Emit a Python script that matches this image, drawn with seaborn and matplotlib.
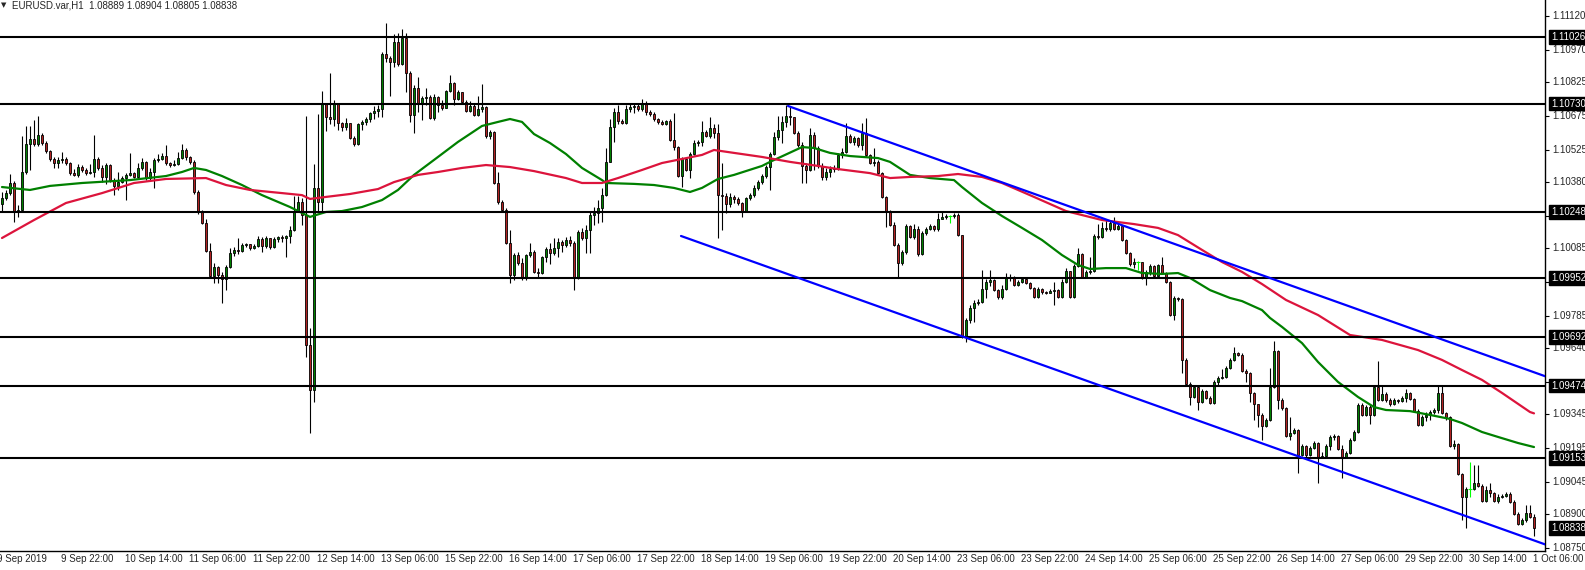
import numpy as np
import pandas as pd
import seaborn as sns
import matplotlib
matplotlib.use("Agg")
import matplotlib.pyplot as plt

# EURUSD H1, 9 Sep 2019 - 1 Oct 2019 (open of each bar = close of previous bar)
first_open = 1.10282
close = [
    1.10309, 1.10331, 1.10376, 1.10247, 1.10256, 1.10425, 1.10550, 1.10572, 1.10550, 1.10590,
    1.10554, 1.10518, 1.10483, 1.10465, 1.10478, 1.10483, 1.10465, 1.10420, 1.10412, 1.10447,
    1.10434, 1.10420, 1.10425, 1.10483, 1.10443, 1.10403, 1.10456, 1.10389, 1.10363, 1.10380,
    1.10398, 1.10412, 1.10420, 1.10403, 1.10443, 1.10470, 1.10398, 1.10425, 1.10478, 1.10483,
    1.10496, 1.10465, 1.10456, 1.10461, 1.10487, 1.10523, 1.10492, 1.10470, 1.10336, 1.10247,
    1.10198, 1.10073, 1.09962, 1.10002, 1.09966, 1.09948, 1.10002, 1.10064, 1.10078, 1.10073,
    1.10100, 1.10104, 1.10086, 1.10095, 1.10127, 1.10095, 1.10131, 1.10091, 1.10127, 1.10135,
    1.10131, 1.10140, 1.10167, 1.10251, 1.10291, 1.10233, 1.09654, 1.09454, 1.10354, 1.10291,
    1.10728, 1.10670, 1.10661, 1.10728, 1.10643, 1.10625, 1.10643, 1.10576, 1.10550, 1.10639,
    1.10648, 1.10661, 1.10688, 1.10697, 1.10706, 1.10951, 1.10933, 1.10915, 1.11004, 1.10906,
    1.11022, 1.10866, 1.10679, 1.10799, 1.10732, 1.10755, 1.10759, 1.10666, 1.10759, 1.10723,
    1.10710, 1.10786, 1.10821, 1.10750, 1.10781, 1.10737, 1.10697, 1.10719, 1.10679, 1.10706,
    1.10714, 1.10585, 1.10603, 1.10376, 1.10291, 1.10256, 1.10109, 1.09966, 1.10055, 1.10020,
    1.09953, 1.10055, 1.10069, 1.09980, 1.09975, 1.10046, 1.10082, 1.10064, 1.10086, 1.10113,
    1.10100, 1.10122, 1.10109, 1.09953, 1.10158, 1.10131, 1.10167, 1.10233, 1.10242, 1.10265,
    1.10322, 1.10470, 1.10625, 1.10692, 1.10652, 1.10643, 1.10706, 1.10714, 1.10719, 1.10706,
    1.10728, 1.10692, 1.10683, 1.10661, 1.10648, 1.10639, 1.10652, 1.10567, 1.10536, 1.10407,
    1.10483, 1.10434, 1.10505, 1.10554, 1.10559, 1.10603, 1.10585, 1.10621, 1.10599, 1.10322,
    1.10318, 1.10282, 1.10314, 1.10305, 1.10287, 1.10247, 1.10309, 1.10322, 1.10354, 1.10380,
    1.10407, 1.10447, 1.10505, 1.10581, 1.10612, 1.10648, 1.10674, 1.10670, 1.10599, 1.10545,
    1.10452, 1.10434, 1.10590, 1.10532, 1.10452, 1.10403, 1.10425, 1.10438, 1.10443, 1.10501,
    1.10514, 1.10585, 1.10559, 1.10576, 1.10545, 1.10599, 1.10501, 1.10465, 1.10470, 1.10420,
    1.10314, 1.10247, 1.10189, 1.10100, 1.10020, 1.10069, 1.10184, 1.10135, 1.10171, 1.10060,
    1.10153, 1.10171, 1.10184, 1.10171, 1.10216, 1.10225, 1.10229, 1.10229, 1.10233, 1.10144,
    1.09690, 1.09766, 1.09819, 1.09841, 1.09846, 1.09904, 1.09935, 1.09944, 1.09899, 1.09868,
    1.09904, 1.09953, 1.09957, 1.09922, 1.09935, 1.09948, 1.09931, 1.09908, 1.09868, 1.09904,
    1.09890, 1.09886, 1.09895, 1.09899, 1.09868, 1.09935, 1.09984, 1.09868, 1.10006, 1.10060,
    1.09957, 1.09980, 1.09984, 1.10140, 1.10135, 1.10176, 1.10171, 1.10198, 1.10171, 1.10184,
    1.10122, 1.10064, 1.10015, 1.10024, 1.10024, 1.09953, 1.09980, 1.10006, 1.09962, 1.10011,
    1.09975, 1.09935, 1.09788, 1.09864, 1.09859, 1.09588, 1.09481, 1.09423, 1.09467, 1.09400,
    1.09449, 1.09418, 1.09396, 1.09490, 1.09507, 1.09512, 1.09552, 1.09588, 1.09619, 1.09610,
    1.09539, 1.09530, 1.09441, 1.09392, 1.09343, 1.09294, 1.09320, 1.09467, 1.09628, 1.09409,
    1.09374, 1.09249, 1.09262, 1.09276, 1.09164, 1.09205, 1.09164, 1.09196, 1.09218, 1.09156,
    1.09160, 1.09205, 1.09245, 1.09249, 1.09191, 1.09156, 1.09173, 1.09231, 1.09267, 1.09387,
    1.09343, 1.09378, 1.09343, 1.09467, 1.09409, 1.09436, 1.09409, 1.09392, 1.09409, 1.09405,
    1.09418, 1.09441, 1.09414, 1.09360, 1.09298, 1.09334, 1.09343, 1.09356, 1.09365, 1.09441,
    1.09352, 1.09334, 1.09205, 1.09213, 1.09080, 1.08977, 1.09013, 1.09013, 1.09040, 1.09026,
    1.08960, 1.09009, 1.08995, 1.08960, 1.08977, 1.08982, 1.08991, 1.08955, 1.08902, 1.08857,
    1.08875, 1.08906, 1.08889, 1.08838,
]
high = [
    1.10336, 1.10345, 1.10416, 1.10385, 1.10278, 1.10585, 1.10630, 1.10630, 1.10657, 1.10674,
    1.10599, 1.10563, 1.10523, 1.10492, 1.10492, 1.10514, 1.10492, 1.10470, 1.10438, 1.10461,
    1.10456, 1.10443, 1.10461, 1.10590, 1.10492, 1.10456, 1.10465, 1.10461, 1.10398, 1.10425,
    1.10407, 1.10420, 1.10510, 1.10425, 1.10465, 1.10487, 1.10474, 1.10443, 1.10487, 1.10505,
    1.10510, 1.10545, 1.10470, 1.10478, 1.10514, 1.10550, 1.10532, 1.10496, 1.10478, 1.10345,
    1.10256, 1.10216, 1.10109, 1.10020, 1.10006, 1.09980, 1.10011, 1.10086, 1.10091, 1.10131,
    1.10109, 1.10109, 1.10104, 1.10104, 1.10140, 1.10135, 1.10140, 1.10131, 1.10135, 1.10140,
    1.10144, 1.10144, 1.10184, 1.10318, 1.10318, 1.10309, 1.10674, 1.09730, 1.10461, 1.10683,
    1.10786, 1.10732, 1.10866, 1.10746, 1.10732, 1.10648, 1.10666, 1.10639, 1.10585, 1.10643,
    1.10657, 1.10670, 1.10692, 1.10719, 1.10723, 1.10959, 1.11089, 1.10942, 1.11040, 1.11044,
    1.11062, 1.11044, 1.10875, 1.10812, 1.10848, 1.10763, 1.10799, 1.10768, 1.10772, 1.10763,
    1.10746, 1.10790, 1.10857, 1.10826, 1.10790, 1.10781, 1.10746, 1.10741, 1.10728, 1.10763,
    1.10817, 1.10719, 1.10612, 1.10608, 1.10425, 1.10300, 1.10265, 1.10167, 1.10064, 1.10069,
    1.10042, 1.10060, 1.10109, 1.10078, 1.09997, 1.10051, 1.10091, 1.10109, 1.10131, 1.10131,
    1.10122, 1.10135, 1.10140, 1.10118, 1.10167, 1.10176, 1.10189, 1.10247, 1.10269, 1.10300,
    1.10354, 1.10532, 1.10661, 1.10710, 1.10723, 1.10661, 1.10723, 1.10728, 1.10732, 1.10728,
    1.10750, 1.10741, 1.10701, 1.10692, 1.10666, 1.10657, 1.10657, 1.10661, 1.10688, 1.10541,
    1.10492, 1.10492, 1.10514, 1.10567, 1.10567, 1.10652, 1.10612, 1.10670, 1.10639, 1.10639,
    1.10465, 1.10331, 1.10331, 1.10322, 1.10314, 1.10291, 1.10314, 1.10331, 1.10367, 1.10389,
    1.10416, 1.10456, 1.10514, 1.10603, 1.10674, 1.10674, 1.10723, 1.10714, 1.10670, 1.10608,
    1.10559, 1.10465, 1.10621, 1.10603, 1.10541, 1.10465, 1.10443, 1.10452, 1.10456, 1.10510,
    1.10532, 1.10643, 1.10594, 1.10585, 1.10581, 1.10643, 1.10666, 1.10505, 1.10532, 1.10478,
    1.10425, 1.10318, 1.10256, 1.10202, 1.10109, 1.10078, 1.10193, 1.10189, 1.10193, 1.10184,
    1.10162, 1.10180, 1.10193, 1.10189, 1.10242, 1.10247, 1.10238, 1.10233, 1.10242, 1.10242,
    1.10144, 1.09775, 1.09833, 1.09855, 1.09859, 1.09988, 1.09948, 1.09988, 1.09948, 1.09904,
    1.09922, 1.09975, 1.09971, 1.09962, 1.09944, 1.09957, 1.09953, 1.09935, 1.09913, 1.09913,
    1.09908, 1.09895, 1.09904, 1.09935, 1.09904, 1.09948, 1.09997, 1.09980, 1.10015, 1.10086,
    1.10064, 1.09988, 1.10046, 1.10149, 1.10193, 1.10202, 1.10216, 1.10207, 1.10225, 1.10193,
    1.10184, 1.10127, 1.10069, 1.10042, 1.10029, 1.10024, 1.09988, 1.10015, 1.10011, 1.10015,
    1.10046, 1.09980, 1.09939, 1.09873, 1.09868, 1.09864, 1.09597, 1.09490, 1.09476, 1.09472,
    1.09458, 1.09454, 1.09427, 1.09499, 1.09516, 1.09548, 1.09561, 1.09597, 1.09645, 1.09623,
    1.09619, 1.09548, 1.09534, 1.09445, 1.09387, 1.09352, 1.09329, 1.09552, 1.09672, 1.09632,
    1.09418, 1.09378, 1.09334, 1.09285, 1.09280, 1.09213, 1.09209, 1.09205, 1.09227, 1.09222,
    1.09178, 1.09213, 1.09254, 1.09258, 1.09254, 1.09209, 1.09182, 1.09240, 1.09276, 1.09396,
    1.09396, 1.09387, 1.09387, 1.09476, 1.09583, 1.09476, 1.09445, 1.09418, 1.09418, 1.09414,
    1.09427, 1.09458, 1.09445, 1.09418, 1.09369, 1.09343, 1.09356, 1.09365, 1.09374, 1.09472,
    1.09472, 1.09356, 1.09338, 1.09231, 1.09218, 1.09084, 1.09022, 1.09133, 1.09120, 1.09120,
    1.09035, 1.09026, 1.09040, 1.09000, 1.08991, 1.08991, 1.09000, 1.09000, 1.08964, 1.08911,
    1.08884, 1.08942, 1.08942, 1.08904,
]
low = [
    1.10247, 1.10300, 1.10322, 1.10202, 1.10225, 1.10247, 1.10416, 1.10434, 1.10541, 1.10541,
    1.10545, 1.10510, 1.10474, 1.10443, 1.10443, 1.10465, 1.10456, 1.10412, 1.10407, 1.10403,
    1.10425, 1.10412, 1.10416, 1.10403, 1.10434, 1.10380, 1.10372, 1.10380, 1.10322, 1.10345,
    1.10376, 1.10300, 1.10407, 1.10398, 1.10398, 1.10434, 1.10389, 1.10389, 1.10354, 1.10470,
    1.10478, 1.10456, 1.10447, 1.10452, 1.10456, 1.10483, 1.10478, 1.10461, 1.10327, 1.10238,
    1.10193, 1.10069, 1.09957, 1.09931, 1.09931, 1.09841, 1.09899, 1.09997, 1.10051, 1.10060,
    1.10069, 1.10091, 1.10078, 1.10082, 1.10091, 1.10069, 1.10086, 1.10082, 1.10086, 1.10113,
    1.10113, 1.10046, 1.10109, 1.10162, 1.10247, 1.10189, 1.09601, 1.09262, 1.09401, 1.10251,
    1.10251, 1.10608, 1.10639, 1.10630, 1.10612, 1.10608, 1.10612, 1.10572, 1.10541, 1.10545,
    1.10612, 1.10634, 1.10648, 1.10661, 1.10670, 1.10670, 1.10915, 1.10763, 1.10893, 1.10897,
    1.10902, 1.10781, 1.10648, 1.10599, 1.10692, 1.10657, 1.10723, 1.10661, 1.10657, 1.10692,
    1.10701, 1.10710, 1.10781, 1.10723, 1.10746, 1.10732, 1.10692, 1.10692, 1.10674, 1.10674,
    1.10692, 1.10576, 1.10572, 1.10372, 1.10282, 1.10247, 1.10104, 1.09931, 1.09944, 1.10011,
    1.09944, 1.09944, 1.10046, 1.09975, 1.09953, 1.09971, 1.10024, 1.10015, 1.10055, 1.10046,
    1.10069, 1.10091, 1.10095, 1.09899, 1.09948, 1.10122, 1.10064, 1.10064, 1.10189, 1.10198,
    1.10202, 1.10318, 1.10470, 1.10559, 1.10639, 1.10639, 1.10639, 1.10692, 1.10688, 1.10697,
    1.10697, 1.10679, 1.10674, 1.10652, 1.10639, 1.10634, 1.10634, 1.10563, 1.10523, 1.10403,
    1.10358, 1.10429, 1.10398, 1.10501, 1.10541, 1.10541, 1.10581, 1.10576, 1.10576, 1.10131,
    1.10167, 1.10242, 1.10269, 1.10287, 1.10278, 1.10225, 1.10247, 1.10300, 1.10314, 1.10345,
    1.10372, 1.10398, 1.10345, 1.10501, 1.10567, 1.10554, 1.10625, 1.10634, 1.10594, 1.10536,
    1.10376, 1.10376, 1.10429, 1.10434, 1.10443, 1.10389, 1.10389, 1.10403, 1.10425, 1.10434,
    1.10487, 1.10510, 1.10554, 1.10545, 1.10536, 1.10523, 1.10492, 1.10461, 1.10452, 1.10416,
    1.10309, 1.10180, 1.10184, 1.10095, 1.09953, 1.10011, 1.10060, 1.10131, 1.10127, 1.10051,
    1.10055, 1.10144, 1.10167, 1.10162, 1.10162, 1.10216, 1.10216, 1.10198, 1.10220, 1.10140,
    1.09686, 1.09668, 1.09752, 1.09757, 1.09833, 1.09841, 1.09864, 1.09917, 1.09895, 1.09859,
    1.09859, 1.09899, 1.09939, 1.09917, 1.09917, 1.09931, 1.09926, 1.09904, 1.09864, 1.09864,
    1.09882, 1.09882, 1.09886, 1.09833, 1.09864, 1.09864, 1.09931, 1.09864, 1.09864, 1.10002,
    1.09953, 1.09953, 1.09971, 1.09980, 1.10127, 1.10131, 1.10162, 1.10162, 1.10167, 1.10167,
    1.10118, 1.10060, 1.10006, 1.09997, 1.09988, 1.09948, 1.09922, 1.09966, 1.09957, 1.09962,
    1.09971, 1.09931, 1.09784, 1.09766, 1.09850, 1.09530, 1.09472, 1.09387, 1.09418, 1.09365,
    1.09396, 1.09414, 1.09392, 1.09392, 1.09476, 1.09503, 1.09507, 1.09548, 1.09583, 1.09605,
    1.09534, 1.09490, 1.09400, 1.09320, 1.09289, 1.09231, 1.09289, 1.09316, 1.09463, 1.09369,
    1.09365, 1.09245, 1.09231, 1.09258, 1.09084, 1.09160, 1.09156, 1.09160, 1.09191, 1.09040,
    1.09151, 1.09156, 1.09187, 1.09231, 1.09187, 1.09062, 1.09151, 1.09169, 1.09227, 1.09262,
    1.09338, 1.09338, 1.09303, 1.09338, 1.09405, 1.09405, 1.09400, 1.09383, 1.09387, 1.09396,
    1.09400, 1.09400, 1.09409, 1.09356, 1.09294, 1.09294, 1.09316, 1.09320, 1.09347, 1.09352,
    1.09347, 1.09320, 1.09200, 1.09191, 1.09075, 1.08875, 1.08839, 1.08977, 1.09009, 1.09022,
    1.08955, 1.08955, 1.08977, 1.08955, 1.08951, 1.08973, 1.08977, 1.08951, 1.08897, 1.08853,
    1.08853, 1.08866, 1.08884, 1.08805,
]

# moving averages (bar number, price)
green_ma_bar = [0, 7, 12, 20, 32, 41, 45, 48, 51, 55, 60, 65, 72, 77, 81, 85, 90, 95, 99, 103,
                109, 114, 120, 124, 127, 130, 133, 137, 141, 145, 150, 151, 158, 163, 168, 172,
                175, 179, 183, 190, 192, 200, 203, 207, 212, 219, 222, 227, 232, 238, 240, 245,
                250, 255, 260, 265, 269, 272, 276, 281, 285, 290, 294, 297, 302, 307, 310, 315,
                317, 320, 325, 329, 334, 339, 343, 346, 352, 357, 362, 365, 370, 374, 379, 383]
green_ma = [1.10358, 1.10345, 1.10363, 1.10376, 1.10389, 1.10407, 1.10425, 1.10443, 1.10434, 1.10407,
            1.10367, 1.10322, 1.10269, 1.10225, 1.10247, 1.10251, 1.10269, 1.10300, 1.10345, 1.10412,
            1.10492, 1.10559, 1.10630, 1.10648, 1.10661, 1.10648, 1.10594, 1.10554, 1.10505, 1.10443,
            1.10389, 1.10376, 1.10372, 1.10367, 1.10354, 1.10336, 1.10354, 1.10394, 1.10412, 1.10452,
            1.10470, 1.10536, 1.10532, 1.10510, 1.10496, 1.10487, 1.10470, 1.10412, 1.10398, 1.10389,
            1.10358, 1.10287, 1.10229, 1.10176, 1.10122, 1.10055, 1.10011, 1.09993, 1.09997, 1.09997,
            1.09975, 1.09971, 1.09975, 1.09953, 1.09899, 1.09864, 1.09850, 1.09810, 1.09775, 1.09735,
            1.09663, 1.09579, 1.09490, 1.09423, 1.09378, 1.09365, 1.09360, 1.09343, 1.09325, 1.09307,
            1.09267, 1.09245, 1.09218, 1.09200]
red_ma_bar = [0, 8, 16, 25, 33, 41, 51, 56, 62, 70, 75, 77, 81, 87, 94, 98, 104, 109, 115, 121,
              127, 133, 141, 145, 150, 154, 160, 165, 170, 175, 178, 183, 190, 197, 204, 209,
              217, 222, 227, 234, 239, 245, 250, 258, 266, 275, 283, 289, 294, 300, 305, 310,
              315, 321, 329, 337, 345, 354, 360, 365, 370, 375, 382, 383]
red_ma = [1.10131, 1.10211, 1.10287, 1.10331, 1.10376, 1.10394, 1.10398, 1.10367, 1.10345, 1.10331,
          1.10322, 1.10305, 1.10314, 1.10327, 1.10349, 1.10380, 1.10412, 1.10425, 1.10443, 1.10456,
          1.10447, 1.10429, 1.10398, 1.10376, 1.10376, 1.10398, 1.10434, 1.10465, 1.10483, 1.10501,
          1.10523, 1.10510, 1.10492, 1.10470, 1.10452, 1.10438, 1.10420, 1.10398, 1.10403, 1.10407,
          1.10416, 1.10403, 1.10376, 1.10314, 1.10251, 1.10211, 1.10193, 1.10176, 1.10144, 1.10078,
          1.10024, 1.09980, 1.09926, 1.09855, 1.09788, 1.09699, 1.09677, 1.09632, 1.09588, 1.09543,
          1.09499, 1.09441, 1.09356, 1.09350]

levels = [1.11026, 1.10730, 1.10248, 1.09952, 1.09692, 1.09474, 1.09153]
last_price = 1.08838
price_ticks = [1.11120, 1.10970, 1.10825, 1.10675, 1.10525, 1.10380, 1.10230, 1.10085, 1.09935,
               1.09785, 1.09640, 1.09490, 1.09345, 1.09195, 1.09045, 1.08900, 1.08750]
# these ticks sit under a level box, their label is covered
covered_ticks = [1.10230, 1.09935, 1.09490]

channel_top_bar = [196.5, 386]
channel_top = [1.10719, 1.09514]
channel_bottom_bar = [169.75, 386]
channel_bottom = [1.10140, 1.08765]

time_labels = ['9 Sep 2019', '9 Sep 22:00', '10 Sep 14:00', '11 Sep 06:00', '11 Sep 22:00',
               '12 Sep 14:00', '13 Sep 06:00', '15 Sep 22:00', '16 Sep 14:00', '17 Sep 06:00',
               '17 Sep 22:00', '18 Sep 14:00', '19 Sep 06:00', '19 Sep 22:00', '20 Sep 14:00',
               '23 Sep 06:00', '23 Sep 22:00', '24 Sep 14:00', '25 Sep 06:00', '25 Sep 22:00',
               '26 Sep 14:00', '27 Sep 06:00', '29 Sep 22:00', '30 Sep 14:00', '1 Oct 06:00']
bars_per_label = 16

sns.set_style("white")
plt.rcParams['font.family'] = ['Liberation Sans', 'DejaVu Sans']

df = pd.DataFrame({'close': close, 'high': high, 'low': low})
df['open'] = df['close'].shift(1).fillna(first_open)
df['bar'] = np.arange(len(df))
df['high'] = df[['high', 'open', 'close']].max(axis=1)
df['low'] = df[['low', 'open', 'close']].min(axis=1)
diff = df['close'] - df['open']
up = df[diff > 1e-7]
down = df[diff < -1e-7]
doji = df[diff.abs() <= 1e-7]
solid = df[diff.abs() > 1e-7]

W, H = 1585, 570
fig = plt.figure(figsize=(W / 100, H / 100), dpi=100)
ax = fig.add_axes([0, 19 / H, 1545 / W, 551 / H])
ax.set_xlim(-0.5, 385.75)
ax.set_ylim(1.08737, 1.11191)

# candles
ax.vlines(solid['bar'], solid['low'], solid['high'], color='black', lw=0.8, zorder=2)
ax.vlines(doji['bar'], doji['low'], doji['high'], color='#00ff00', lw=0.8, zorder=2)
ax.hlines(doji['close'], doji['bar'] - 0.4, doji['bar'] + 0.4, color='#00ff00', lw=0.8, zorder=2)
ax.bar(up['bar'], up['close'] - up['open'], bottom=up['open'], width=0.72,
       color='#008000', edgecolor='black', linewidth=0.6, zorder=3)
ax.bar(down['bar'], down['open'] - down['close'], bottom=down['close'], width=0.72,
       color='#b22222', edgecolor='black', linewidth=0.6, zorder=3)

# moving averages
sns.lineplot(x=green_ma_bar, y=green_ma, ax=ax, color='#008000', lw=1.6, zorder=4, legend=False)
sns.lineplot(x=red_ma_bar, y=red_ma, ax=ax, color='#dc143c', lw=1.6, zorder=4, legend=False)

# support / resistance levels and channel
for lv in levels:
    ax.axhline(lv, color='black', lw=1.5, zorder=5)
ax.plot(channel_top_bar, channel_top, color='#0000ff', lw=1.6, zorder=5)
ax.plot(channel_bottom_bar, channel_bottom, color='#0000ff', lw=1.6, zorder=5)

# axes look
for side in ['left', 'top']:
    ax.spines[side].set_visible(False)
for side in ['right', 'bottom']:
    ax.spines[side].set_color('black')
    ax.spines[side].set_linewidth(1)
ax.yaxis.tick_right()
ax.set_yticks(price_ticks)
ax.set_yticklabels([])
n = len(time_labels)
label_pos = [len(df) - 1 - bars_per_label * (n - 1 - i) for i in range(n)]
ax.set_xticks([p for p in label_pos if p >= 0])
ax.set_xticklabels([])
ax.tick_params(axis='both', length=3, width=0.8, color='black', direction='out')
ax.set_xlabel('')
ax.set_ylabel('')

for p in price_ticks:
    if p in covered_ticks:
        continue
    ax.annotate(f'{p:.5f}', xy=(1, p), xycoords=('axes fraction', 'data'), xytext=(7, 0),
                textcoords='offset pixels', ha='left', va='center', fontsize=7,
                annotation_clip=False, zorder=6)
for p in levels + [last_price]:
    ax.annotate(f'{p:.5f}', xy=(1, p), xycoords=('axes fraction', 'data'), xytext=(6, 0),
                textcoords='offset pixels', ha='left', va='center', fontsize=7, color='white',
                bbox=dict(boxstyle='square,pad=0.2', fc='black', ec='black'),
                annotation_clip=False, zorder=10)

for lab, p in zip(time_labels, label_pos):
    ax.annotate(lab, xy=(p, 0), xycoords=('data', 'axes fraction'), xytext=(-1, -8),
                textcoords='offset pixels', ha='left', va='center', fontsize=7,
                annotation_clip=False)

fig.text(1 / W, 1 - 5 / H, '\u25bc', fontsize=5, family='DejaVu Sans', va='center', ha='left')
fig.text(12 / W, 1 - 5 / H, 'EURUSD.var,H1  1.08889 1.08904 1.08805 1.08838',
         fontsize=7, va='center', ha='left')

fig.savefig('out.png', dpi=100)
